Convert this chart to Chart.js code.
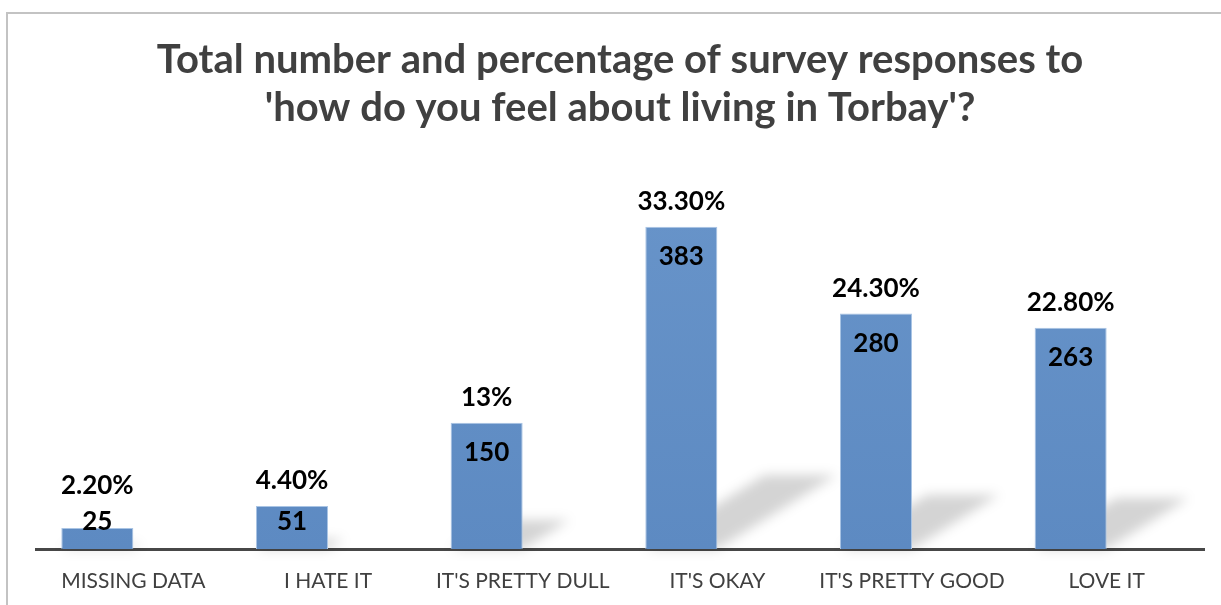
<!DOCTYPE html>
<html>
<head>
<meta charset="utf-8">
<title>How do you feel about living in Torbay</title>
<script src="https://cdn.jsdelivr.net/npm/chart.js@4/dist/chart.umd.min.js"></script>
<style>
    html, body { margin: 0; padding: 0; background: #ffffff; }
    #wrap { position: relative; width: 1221px; height: 605px; }
</style>
</head>
<body>
<div id="wrap"><canvas id="grafico" width="1221" height="605"></canvas></div>
<script>
const categorias = ['MISSING DATA', 'I HATE IT', "IT'S PRETTY DULL", "IT'S OKAY", "IT'S PRETTY GOOD", 'LOVE IT'];
const respostas = [25, 51, 150, 383, 280, 263];
const percentuais = ['2.20%', '4.40%', '13%', '33.30%', '24.30%', '22.80%'];
const vazio = [null, null, null, null, null, null];

(function () {
    const canvas = document.getElementById('grafico');
    if (!canvas || typeof Chart === 'undefined') {
        return;
    }

    const fonteTexto = 'Lato, "Open Sans", sans-serif';

    // moldura cinza (canto superior esquerdo) como no original
    const moldura = {
        id: 'moldura',
        beforeDraw: function (chart) {
            const ctx = chart.ctx;
            ctx.save();
            ctx.fillStyle = '#ffffff';
            ctx.fillRect(0, 0, chart.width, chart.height);
            ctx.strokeStyle = '#c3c3c3';
            ctx.lineWidth = 2;
            ctx.beginPath();
            ctx.moveTo(7, chart.height);
            ctx.lineTo(7, 13);
            ctx.lineTo(chart.width, 13);
            ctx.stroke();
            ctx.restore();
        }
    };

    // sombra em perspectiva atras de cada barra
    const sombras = {
        id: 'sombras',
        beforeDatasetsDraw: function (chart) {
            const meta = chart.getDatasetMeta(0);
            const ctx = chart.ctx;
            ctx.save();
            ctx.filter = 'blur(6px)';
            ctx.fillStyle = 'rgba(0, 0, 0, 0.17)';
            meta.data.forEach(function (barra) {
                const props = barra.getProps(['x', 'y', 'base', 'width'], true);
                const altura = props.base - props.y;
                const esq = props.x - props.width / 2;
                const dir = props.x + props.width / 2;
                const dx = altura * 0.37;
                const dy = altura * 0.23;
                ctx.beginPath();
                ctx.moveTo(esq, props.base);
                ctx.lineTo(dir, props.base);
                ctx.lineTo(dir + dx, props.base - dy);
                ctx.lineTo(esq + dx, props.base - dy);
                ctx.closePath();
                ctx.fill();
            });
            ctx.restore();
        }
    };

    // rotulos: contagem dentro da barra, percentual acima
    const rotulos = {
        id: 'rotulos',
        afterDatasetsDraw: function (chart) {
            const meta = chart.getDatasetMeta(0);
            const ctx = chart.ctx;
            ctx.save();
            ctx.fillStyle = '#000000';
            ctx.textAlign = 'center';
            ctx.textBaseline = 'middle';
            ctx.font = 'bold 26px ' + fonteTexto;
            meta.data.forEach(function (barra, i) {
                const props = barra.getProps(['x', 'y', 'base'], true);
                const yContagem = Math.min(props.y + 30, props.base - 27);
                const yPerc = Math.min(props.y - 25, yContagem - 36);
                ctx.fillText(String(respostas[i]), props.x, yContagem);
                ctx.fillText(percentuais[i], props.x, yPerc);
            });
            ctx.restore();
        }
    };

    new Chart(canvas, {
        type: 'bar',
        data: {
            labels: categorias,
            datasets: [{
                label: 'Respostas',
                data: respostas,
                backgroundColor: function (context) {
                    const area = context.chart.chartArea;
                    if (!area) {
                        return '#6793c8';
                    }
                    const g = context.chart.ctx.createLinearGradient(0, area.top, 0, area.bottom);
                    g.addColorStop(0, '#6995ca');
                    g.addColorStop(1, '#5d8ac2');
                    return g;
                },
                borderColor: '#a9c4e4',
                borderWidth: 1,
                borderSkipped: 'bottom',
                barPercentage: 1,
                categoryPercentage: 0.74
            }, {
                label: '',
                data: vazio,
                backgroundColor: 'rgba(0,0,0,0)',
                barPercentage: 1,
                categoryPercentage: 0.74
            }]
        },
        options: {
            responsive: false,
            animation: false,
            layout: {
                padding: { left: 36, right: 17, top: 0, bottom: 12 }
            },
            scales: {
                x: {
                    grid: { display: false, drawTicks: false },
                    border: { display: true, color: '#474747', width: 3 },
                    ticks: {
                        color: '#404040',
                        padding: 20,
                        font: { family: fonteTexto, size: 21 }
                    },
                    afterFit: function (scale) {
                        scale.height = 44;
                    }
                },
                y: {
                    display: false,
                    min: 0,
                    max: 472
                }
            },
            plugins: {
                legend: { display: false },
                tooltip: { enabled: false },
                title: {
                    display: true,
                    text: ['Total number and percentage of survey responses to', "'how do you feel about living in Torbay'?"],
                    color: '#404040',
                    font: { family: fonteTexto, size: 40, weight: 'bold', lineHeight: 1.2 },
                    padding: { top: 36, bottom: 20 }
                }
            }
        },
        plugins: [moldura, sombras, rotulos]
    });
})();
</script>
</body>
</html>
